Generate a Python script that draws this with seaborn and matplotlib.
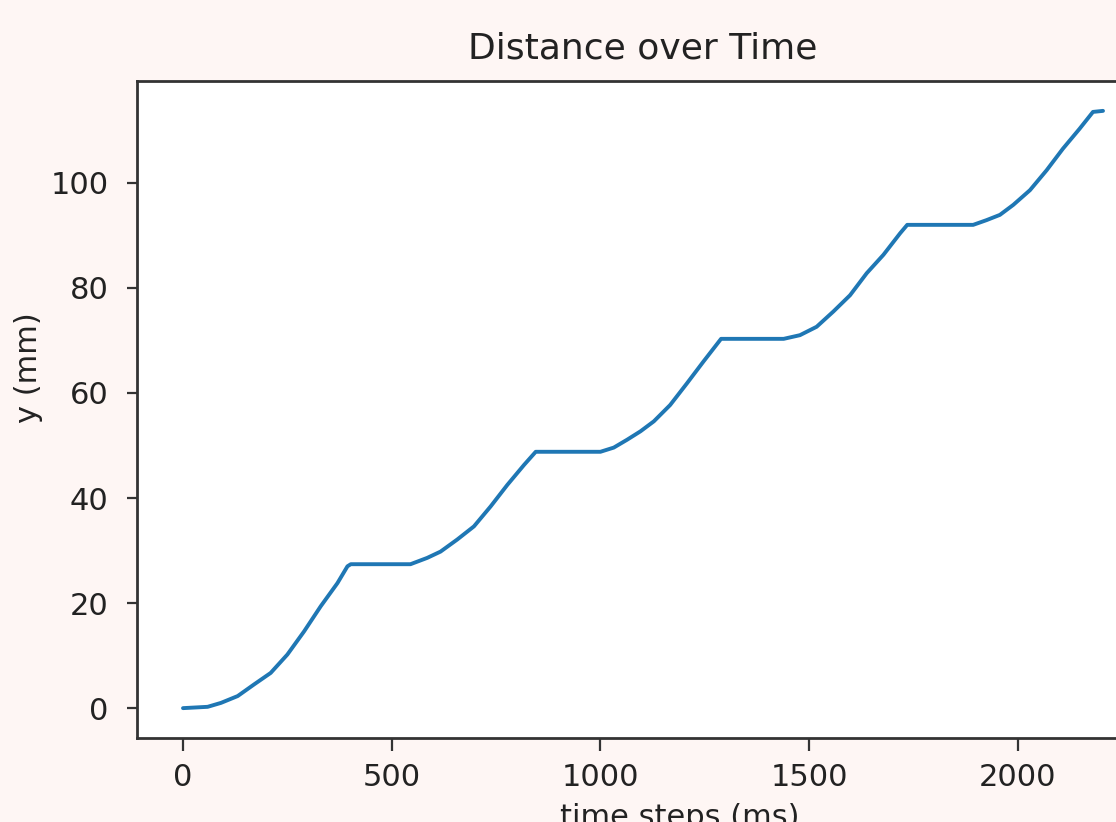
# Distance over time - recreated line chart
import matplotlib
matplotlib.use("Agg")
import matplotlib.pyplot as plt
import seaborn as sns

# values
time_ms = [0, 59, 91, 131, 170, 210, 250, 290, 330, 370, 394, 402,
           545, 585, 617, 657, 697, 737, 777, 817, 845,
           1000, 1032, 1064, 1096, 1128, 1167, 1207, 1247, 1289,
           1439, 1478, 1518, 1558, 1598, 1638, 1678, 1718, 1735,
           1893, 1925, 1957, 1989, 2029, 2069, 2108, 2148, 2180, 2204]
distance_mm = [0.0, 0.25, 1.0, 2.3, 4.5, 6.7, 10.2, 14.6, 19.4, 23.8, 27.0, 27.4,
               27.4, 28.6, 29.8, 32.1, 34.6, 38.4, 42.5, 46.3, 48.8,
               48.8, 49.6, 51.1, 52.7, 54.6, 57.7, 61.8, 66.0, 70.3,
               70.3, 71.0, 72.6, 75.5, 78.6, 82.8, 86.3, 90.4, 92.0,
               92.0, 92.9, 93.9, 95.8, 98.6, 102.4, 106.5, 110.3, 113.5, 113.7]
x_ticks = [0, 500, 1000, 1500, 2000]
y_ticks = [0, 20, 40, 60, 80, 100]

sns.set_theme(style="ticks")
plt.rcParams["font.family"] = ["DejaVu Sans"]
plt.rcParams["axes.edgecolor"] = "#333333"
plt.rcParams["axes.linewidth"] = 2.0

W, H = 1116, 822
fig = plt.figure(figsize=(W / 100, H / 100), dpi=100)
fig.patch.set_facecolor("#fef6f4")
# axes runs past the right edge, like the cropped reference
ax = fig.add_axes([137 / W, (H - 738) / H, 1012 / W, (738 - 81) / H])
ax.set_facecolor("white")

sns.lineplot(x=time_ms, y=distance_mm, ax=ax, color="#1f77b4", linewidth=2.8)

ax.set_xticks(x_ticks)
ax.set_yticks(y_ticks)
ax.tick_params(axis="x", labelsize=22, length=9.5, width=1.6, pad=8.5, colors="#333333", labelcolor="#222222")
ax.tick_params(axis="y", labelsize=22, length=7.5, width=1.6, pad=13, colors="#333333", labelcolor="#222222")

ax.set_title("Distance over Time", fontsize=26, color="#222222", pad=16)
ax.set_xlabel("time steps (ms)", fontsize=22, color="#222222")
ax.set_ylabel("y (mm)", fontsize=22, color="#222222")
ax.xaxis.set_label_coords(0.536, -0.099)
ax.yaxis.set_label_coords(-0.093, 0.563)

fig.savefig("out.png", dpi=100, facecolor=fig.get_facecolor())
